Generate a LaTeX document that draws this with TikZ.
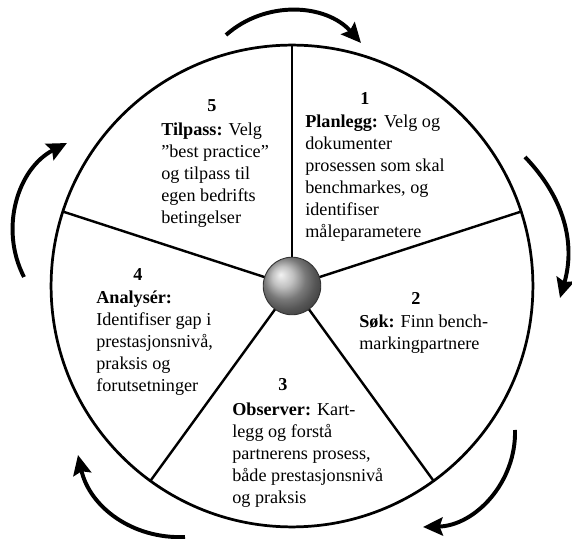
\documentclass[tikz,border=0pt]{standalone}
\usepackage{fontspec}
\setmainfont{Liberation Serif}
\usepackage{tikz}
\usetikzlibrary{arrows.meta,shapes}

\begin{document}
\begin{tikzpicture}[
    x=0.66pt, y=0.66pt,
    wheel/.style={circle, draw, line width=1.8pt, minimum size=318pt, inner sep=0pt, outer sep=0pt},
    spoke/.style={line width=1.6pt},
    hub/.style={circle, draw=black!80, line width=0.6pt, ball color=gray!65, minimum size=38pt, inner sep=0pt},
    stage/.style={anchor=north west, align=left, inner sep=0pt, font=\fontsize{12}{14.5}\selectfont},
    num/.style={inner sep=0pt, font=\fontsize{12}{14.5}\selectfont\bfseries},
    turn/.style={-{Stealth[length=13pt, width=12pt, inset=2pt]}, line width=2.6pt}
]
\useasboundingbox (-292,-253) rectangle (280,286);

\node[wheel] (rim) at (0,0) {};
\foreach \a in {90,18,-54,-126,162}
    \draw[spoke] (rim.center) -- (rim.\a);
\node[hub] (hub) at (0,0) {};

% stage numbers
\node[num] (n1) at (73,187) {1};
\node[num] (n2) at (124,-12) {2};
\node[num] (n3) at (-9,-99) {3};
\node[num] (n4) at (-154,11) {4};
\node[num] (n5) at (-80,180) {5};

% stage texts
\node[stage] (s1) at (13,171) {\textbf{Planlegg:} Velg og\\dokumenter\\prosessen som skal\\benchmarkes, og\\identifiser\\måleparametere};
\node[stage] (s2) at (67,-29) {\textbf{Søk:} Finn bench-\\markingpartnere};
\node[stage] (s3) at (-60,-117) {\textbf{Observer:} Kart-\\legg og forstå\\partnerens prosess,\\både prestasjonsnivå\\og praksis};
\node[stage] (s4) at (-196,-5) {\textbf{Analysér:}\\Identifiser gap i\\prestasjonsnivå,\\praksis og\\forutsetninger};
\node[stage] (s5) at (-131,163) {\textbf{Tilpass:} Velg\\”best practice”\\og tilpass til\\egen bedrifts\\betingelser};

% turning arrows
\coordinate (a1s) at (-66,251);
\coordinate (a1e) at (69,243);
\coordinate (a2s) at (233,129);
\coordinate (a2e) at (268,-12);
\coordinate (a3s) at (223,-144);
\coordinate (a3e) at (131,-241);
\coordinate (a4s) at (-107,-251);
\coordinate (a4e) at (-214,-169);
\coordinate (a5s) at (-268,9);
\coordinate (a5e) at (-225,143);

\draw[turn] (a1s) to[bend left=45] (a1e);
\draw[turn] (a2s) to[bend left=30] (a2e);
\draw[turn] (a3s) to[bend left=45] (a3e);
\draw[turn] (a4s) to[bend left=40] (a4e);
\draw[turn] (a5s) to[bend left=45] (a5e);

\end{tikzpicture}
\end{document}
